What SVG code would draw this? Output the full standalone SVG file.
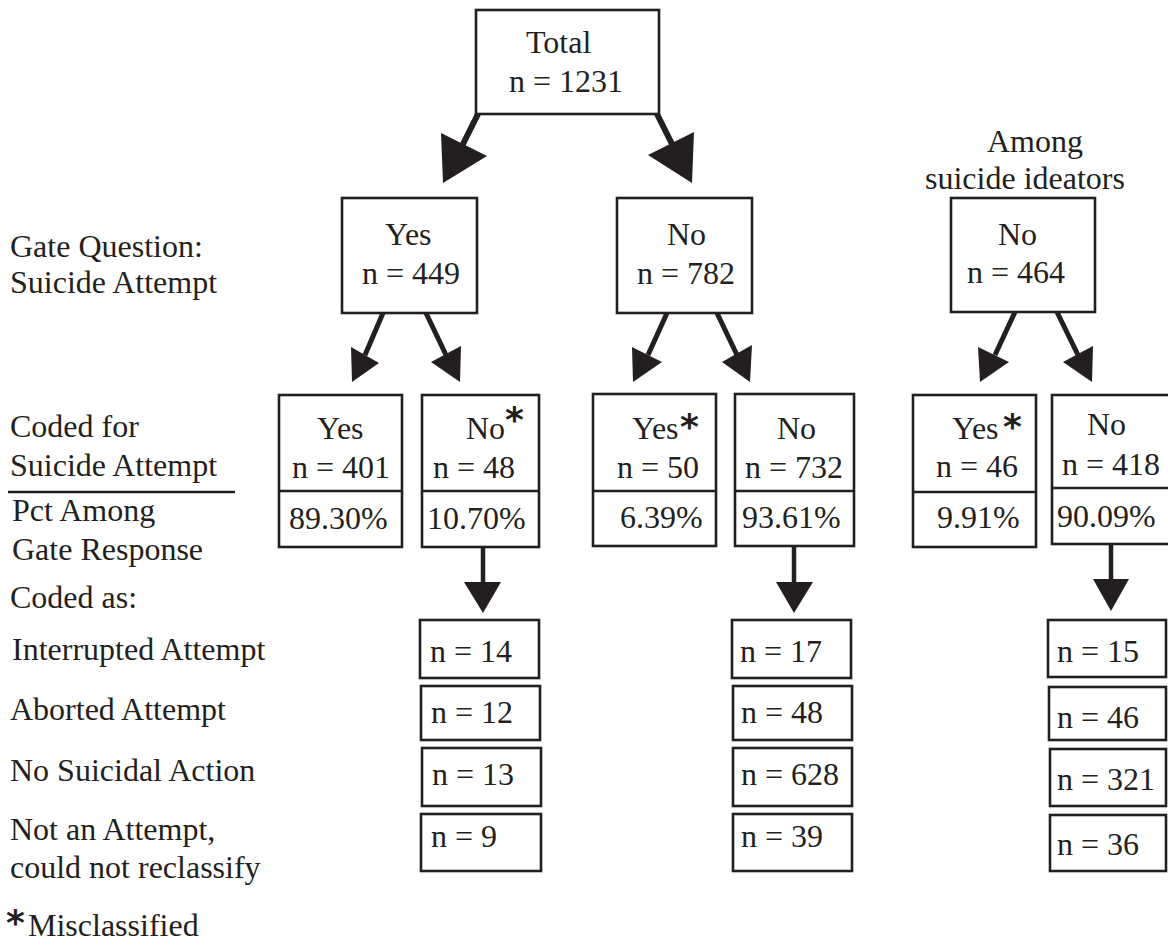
<svg xmlns="http://www.w3.org/2000/svg" width="1168" height="945" viewBox="0 0 1168 945">
<style>
text{font-family:"Liberation Serif","Times New Roman",serif;font-size:32px;fill:#231f20}
.b{fill:#fff;stroke:#231f20;stroke-width:2.6}
.d{stroke:#231f20;stroke-width:2.6}
.ast{font-family:"DejaVu Sans",sans-serif;font-size:36px;font-weight:bold}
.ln{stroke:#231f20;stroke-linecap:butt;fill:none}
.hd{fill:#231f20;stroke:none}
</style>
<rect width="1168" height="945" fill="#fff"/>
<g id="labels">
<text x="10" y="257">Gate Question:</text>
<text x="10" y="293">Suicide Attempt</text>
<text x="10" y="437">Coded for</text>
<text x="10" y="476">Suicide Attempt</text>
<line x1="8" y1="492" x2="235" y2="492" stroke="#231f20" stroke-width="2.5"/>
<text x="12" y="521">Pct Among</text>
<text x="12" y="560">Gate Response</text>
<text x="10" y="608">Coded as:</text>
<text x="12" y="660">Interrupted Attempt</text>
<text x="10" y="720">Aborted Attempt</text>
<text x="10" y="781">No Suicidal Action</text>
<text x="10" y="840">Not an Attempt,</text>
<text x="10" y="878">could not reclassify</text>
<text x="6" y="936"><tspan class="ast" dy="-1">*</tspan><tspan x="28" dy="1">Misclassified</tspan></text>
<text x="987" y="152">Among</text>
<text x="925" y="189">suicide ideators</text>
</g>
<g id="connectors">
<line class="ln" x1="478" y1="114" x2="460" y2="150" stroke-width="6"/>
<polygon class="hd" points="441,133 487,156 443,183"/>
<line class="ln" x1="657" y1="114" x2="675" y2="150" stroke-width="6"/>
<polygon class="hd" points="694,132 648,155 692,183"/>
<line class="ln" x1="383" y1="313" x2="365" y2="355" stroke-width="5"/>
<polygon class="hd" points="351,347 379,363 352,382"/>
<line class="ln" x1="426" y1="313" x2="446" y2="355" stroke-width="5"/>
<polygon class="hd" points="461,346 431,362 460,382"/>
<line class="ln" x1="667" y1="313" x2="648" y2="355" stroke-width="5"/>
<polygon class="hd" points="632,347 662,362 633,382"/>
<line class="ln" x1="717" y1="313" x2="737" y2="355" stroke-width="5"/>
<polygon class="hd" points="752,345 722,362 750,382"/>
<line class="ln" x1="1015" y1="312" x2="995" y2="355" stroke-width="5"/>
<polygon class="hd" points="978,347 1009,362 980,382"/>
<line class="ln" x1="1057" y1="312" x2="1078" y2="355" stroke-width="5"/>
<polygon class="hd" points="1093,346 1063,362 1092,382"/>
<line class="ln" x1="483" y1="547" x2="483" y2="585" stroke-width="4.5"/>
<polygon class="hd" points="464,582 501,582 483,613"/>
<line class="ln" x1="794" y1="546" x2="794" y2="585" stroke-width="4.5"/>
<polygon class="hd" points="776,582 813,582 794,613"/>
<line class="ln" x1="1111" y1="544" x2="1111" y2="582" stroke-width="4.5"/>
<polygon class="hd" points="1093,579 1129,579 1111,611"/>
</g>
<g id="total">
<rect class="b" x="476" y="10" width="183" height="104"/>
<text x="526" y="53">Total</text>
<text x="509" y="92">n = 1231</text>
</g>
<g id="gate-yes">
<rect class="b" x="342" y="198" width="135" height="115"/>
<text x="385" y="245">Yes</text>
<text x="362" y="284">n = 449</text>
</g>
<g id="gate-no">
<rect class="b" x="617" y="198" width="135" height="115"/>
<text x="667" y="245">No</text>
<text x="637" y="284">n = 782</text>
</g>
<g id="ideators-no">
<rect class="b" x="951" y="198" width="144" height="114"/>
<text x="998" y="245">No</text>
<text x="967" y="283">n = 464</text>
</g>
<g id="yes-yes">
<rect class="b" x="279" y="395" width="123" height="152"/>
<line class="d" x1="279" y1="491" x2="402" y2="491"/>
<text x="317" y="439">Yes</text>
<text x="292" y="478">n = 401</text>
<text x="289" y="529">89.30%</text>
</g>
<g id="yes-no">
<rect class="b" x="422" y="395" width="117" height="152"/>
<line class="d" x1="422" y1="491" x2="539" y2="491"/>
<text x="466" y="439">No</text>
<text x="505" y="432" class="ast">*</text>
<text x="433" y="478">n = 48</text>
<text x="427" y="529">10.70%</text>
</g>
<g id="no-yes">
<rect class="b" x="593" y="394" width="123" height="152"/>
<line class="d" x1="593" y1="491" x2="716" y2="491"/>
<text x="632" y="439">Yes</text>
<text x="680" y="439" class="ast">*</text>
<text x="617" y="478">n = 50</text>
<text x="620" y="528">6.39%</text>
</g>
<g id="no-no">
<rect class="b" x="735" y="394" width="119" height="152"/>
<line class="d" x1="735" y1="491" x2="854" y2="491"/>
<text x="777" y="439">No</text>
<text x="745" y="478">n = 732</text>
<text x="742" y="528">93.61%</text>
</g>
<g id="ide-yes">
<rect class="b" x="913" y="395" width="123" height="152"/>
<line class="d" x1="913" y1="492" x2="1036" y2="492"/>
<text x="952" y="439">Yes</text>
<text x="1003" y="439" class="ast">*</text>
<text x="936" y="477">n = 46</text>
<text x="937" y="528">9.91%</text>
</g>
<g id="ide-no">
<rect class="b" x="1052" y="395" width="125" height="149"/>
<line class="d" x1="1052" y1="488" x2="1177" y2="488"/>
<text x="1087" y="435">No</text>
<text x="1062" y="475">n = 418</text>
<text x="1057" y="527">90.09%</text>
</g>
<g id="yesno-coded">
<rect class="b" x="420" y="620" width="119" height="58"/><text x="430" y="662">n = 14</text>
<rect class="b" x="421" y="686" width="119" height="54"/><text x="431" y="723">n = 12</text>
<rect class="b" x="422" y="748" width="119" height="58"/><text x="432" y="785">n = 13</text>
<rect class="b" x="421" y="814" width="120" height="57"/><text x="431" y="847">n = 9</text>
</g>
<g id="nono-coded">
<rect class="b" x="732" y="620" width="119" height="58"/><text x="740" y="662">n = 17</text>
<rect class="b" x="733" y="686" width="119" height="54"/><text x="741" y="723">n = 48</text>
<rect class="b" x="733" y="748" width="119" height="58"/><text x="741" y="785">n = 628</text>
<rect class="b" x="733" y="814" width="119" height="57"/><text x="741" y="847">n = 39</text>
</g>
<g id="ideno-coded">
<rect class="b" x="1048" y="620" width="118" height="57"/><text x="1057" y="662">n = 15</text>
<rect class="b" x="1049" y="687" width="117" height="53"/><text x="1057" y="728">n = 46</text>
<rect class="b" x="1050" y="749" width="116" height="57"/><text x="1057" y="790">n = 321</text>
<rect class="b" x="1050" y="815" width="116" height="56"/><text x="1057" y="855">n = 36</text>
</g>
</svg>
